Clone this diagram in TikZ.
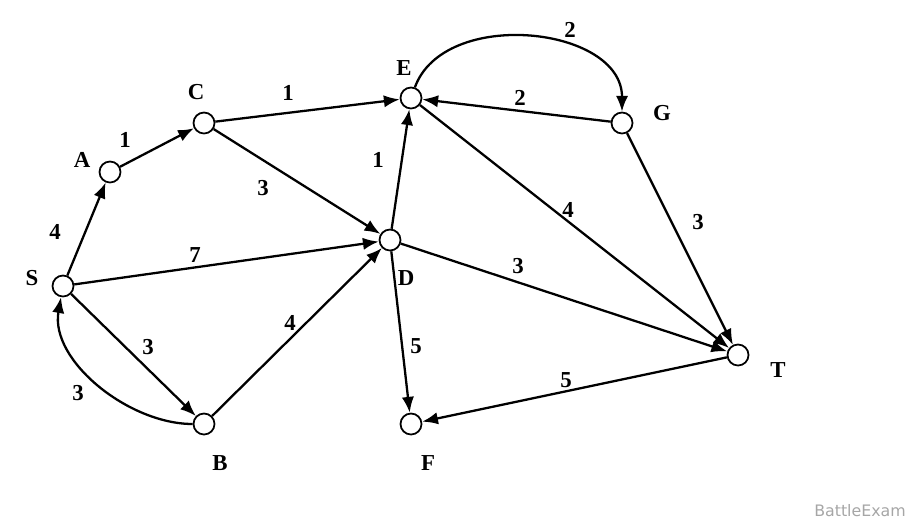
\documentclass[tikz,border=0pt]{standalone}
\usepackage{fontspec}
\setmainfont{Liberation Serif}
\newfontfamily\wmfont{DejaVu Sans}
\usetikzlibrary{arrows.meta}

\begin{document}
\begin{tikzpicture}[x=0.02cm,y=-0.02cm,>={Latex[length=9pt,width=7pt]},line width=1.3pt,
  font=\bfseries\fontsize{13}{15}\selectfont]
  \tikzstyle{vertex}=[circle,draw,line width=1pt,fill=white,minimum size=0.42cm,inner sep=0pt]
  \tikzstyle{lbl}=[inner sep=1pt]
  \useasboundingbox (0,0) rectangle (915,524);

  \node[vertex] (S) at (63,286)  {};
  \node[vertex] (A) at (110,172) {};
  \node[vertex] (C) at (204,123) {};
  \node[vertex] (E) at (411,98)  {};
  \node[vertex] (G) at (622,123) {};
  \node[vertex] (D) at (390,240) {};
  \node[vertex] (B) at (204,424) {};
  \node[vertex] (F) at (411,424) {};
  \node[vertex] (T) at (738,355) {};

  \node[lbl] at (32,278)  {S};
  \node[lbl] at (82,160)  {A};
  \node[lbl] at (196,92)  {C};
  \node[lbl] at (404,68)  {E};
  \node[lbl] at (662,113) {G};
  \node[lbl] at (406,278) {D};
  \node[lbl] at (220,463) {B};
  \node[lbl] at (428,463) {F};
  \node[lbl] at (778,370) {T};

  \draw[->] (S) -- (A);
  \draw[->] (A) -- (C);
  \draw[->] (C) -- (E);
  \draw[->] (C) -- (D);
  \draw[->] (S) -- (D);
  \draw[->] (S) -- (B);
  \draw[->] (B) to[out=180,in=260,looseness=0.9] (S);
  \draw[->] (B) -- (D);
  \draw[->] (D) -- (E);
  \draw[->] (E) to[out=70,in=90,looseness=1.05] (G);
  \draw[->] (G) -- (E);
  \draw[->] (E) -- (T);
  \draw[->] (G) -- (T);
  \draw[->] (D) -- (T);
  \draw[->] (D) -- (F);
  \draw[->] (T) -- (F);

  \node[lbl] at (55,232)  {4};
  \node[lbl] at (125,140) {1};
  \node[lbl] at (288,93)  {1};
  \node[lbl] at (263,188) {3};
  \node[lbl] at (195,255) {7};
  \node[lbl] at (148,347) {3};
  \node[lbl] at (78,393)  {3};
  \node[lbl] at (290,323) {4};
  \node[lbl] at (378,160) {1};
  \node[lbl] at (570,30)  {2};
  \node[lbl] at (520,98)  {2};
  \node[lbl] at (568,210) {4};
  \node[lbl] at (698,222) {3};
  \node[lbl] at (518,266) {3};
  \node[lbl] at (416,346) {5};
  \node[lbl] at (566,380) {5};

  \node[text=gray!70,font=\wmfont\fontsize{9}{10}\selectfont] (wm) at (860,511) {BattleExam};
\end{tikzpicture}
\end{document}
